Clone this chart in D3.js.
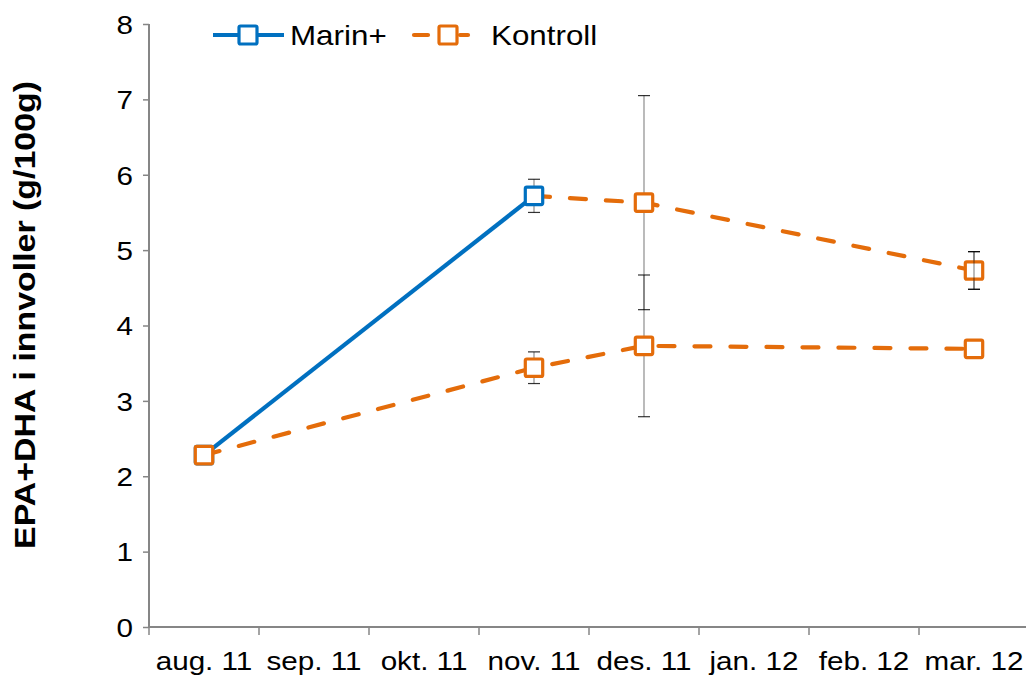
<!DOCTYPE html>
<html>
<head>
<meta charset="utf-8">
<script src="https://cdn.jsdelivr.net/npm/d3@7"></script>
<style>
  html, body { margin: 0; padding: 0; background: #fff; }
  svg { display: block; font-family: "Liberation Sans", Arial, sans-serif; }
</style>
</head>
<body>
<svg id="chart" width="1026" height="677"></svg>
<script>
// Months on the x axis
const months = ["aug. 11", "sep. 11", "okt. 11", "nov. 11", "des. 11", "jan. 12", "feb. 12", "mar. 12"];
const yTicks = [0, 1, 2, 3, 4, 5, 6, 7, 8];

// Marin+ feed group
const marinMonths = ["aug. 11", "nov. 11"];
const marinValues = [2.28, 5.72];
const marinErr = [0, 0.22];

// Marin+ group after switching to control feed
const switchMonths = ["nov. 11", "des. 11", "mar. 12"];
const switchValues = [5.72, 5.63, 4.73];
const switchErr = [0, 1.42, 0.25];

// Kontroll group
const kontrollMonths = ["aug. 11", "nov. 11", "des. 11", "mar. 12"];
const kontrollValues = [2.28, 3.44, 3.73, 3.69];
const kontrollErr = [0, 0.21, 0.94, 0];

const BLUE = "#0070C0";
const ORANGE = "#E46C0A";
const AXIS = "#868686";
const WIDE = 1.14; // horizontal stretch of the label font

const svg = d3.select("#chart");
const plotL = 149, plotR = 1029, plotT = 24, plotB = 627;

const x = d3.scaleBand().domain(months).range([plotL, plotR]);
const y = d3.scaleLinear().domain([0, 8]).range([plotB, plotT]);
const cx = m => x(m) + x.bandwidth() / 2;

// widen a text element about its anchor point
function widen(sel, k) {
  sel.each(function () {
    const t = d3.select(this);
    const tx = +t.attr("x") || 0, ty = +t.attr("y") || 0;
    t.attr("x", 0).attr("y", 0)
      .attr("transform", `translate(${tx},${ty}) scale(${k},1)`);
  });
}

// Axes
const yAxis = svg.append("g")
  .attr("transform", `translate(${plotL},0)`)
  .call(d3.axisLeft(y).tickValues(yTicks).tickSize(6).tickPadding(10).tickFormat(d3.format("d")));
const xAxis = svg.append("g")
  .attr("transform", `translate(0,${plotB})`)
  .call(d3.axisBottom(x).tickSize(0).tickPadding(25));
// band boundaries as tick marks
xAxis.selectAll(".bound").data(months).enter().append("line")
  .attr("class", "bound")
  .attr("x1", d => x(d)).attr("x2", d => x(d))
  .attr("y1", 0).attr("y2", 8);

[yAxis, xAxis].forEach(g => {
  g.select(".domain").attr("stroke", AXIS).attr("stroke-width", 2);
  g.selectAll("line").attr("stroke", AXIS).attr("stroke-width", 1.5);
  g.selectAll("text").attr("fill", "#000").attr("font-size", 26)
    .attr("font-family", "'Liberation Sans', Arial, sans-serif");
});
xAxis.select(".domain").attr("d", `M${plotL},0H1026`);
yAxis.select(".domain").attr("d", `M0,${plotT}V${plotB}`);
yAxis.selectAll("text").attr("dy", "0.36em");
widen(yAxis.selectAll(".tick text"), WIDE);
widen(xAxis.selectAll(".tick text"), WIDE);

// Y axis title
svg.append("text")
  .attr("transform", `translate(35,315) rotate(-90) scale(1.13,1)`)
  .attr("text-anchor", "middle")
  .attr("font-size", 30)
  .attr("font-weight", "bold")
  .text("EPA+DHA i innvoller (g/100g)");

function series(ms, vs) { return ms.map((m, i) => ({ m, v: vs[i] })); }

const line = d3.line().x(d => cx(d.m)).y(d => y(d.v));

function errorBars(ms, vs, es) {
  const data = ms.map((m, i) => ({ m, v: vs[i], e: es[i] })).filter(d => d.e > 0);
  const g = svg.append("g");
  g.selectAll(".stem").data(data).enter().append("line")
    .attr("x1", d => cx(d.m)).attr("x2", d => cx(d.m))
    .attr("y1", d => y(d.v + d.e)).attr("y2", d => y(d.v - d.e))
    .attr("stroke", "#000").attr("stroke-opacity", 0.45).attr("stroke-width", 1.2);
  ["up", "down"].forEach(side => {
    g.selectAll(".cap-" + side).data(data).enter().append("line")
      .attr("x1", d => cx(d.m) - 6).attr("x2", d => cx(d.m) + 6)
      .attr("y1", d => y(side === "up" ? d.v + d.e : d.v - d.e))
      .attr("y2", d => y(side === "up" ? d.v + d.e : d.v - d.e))
      .attr("stroke", "#000").attr("stroke-opacity", 0.8).attr("stroke-width", 1.2);
  });
}

function drawLine(data, color, dashed) {
  svg.append("path").datum(data)
    .attr("d", line)
    .attr("fill", "none")
    .attr("stroke", color)
    .attr("stroke-width", 4.2)
    .attr("stroke-linecap", dashed ? "round" : "butt")
    .attr("stroke-dasharray", dashed ? "16,20" : null);
}

function drawMarkers(data, color) {
  svg.append("g").selectAll("rect").data(data).enter().append("rect")
    .attr("x", d => cx(d.m) - 8.7).attr("y", d => y(d.v) - 8.7)
    .attr("width", 17.4).attr("height", 17.4)
    .attr("rx", 1.5)
    .attr("fill", "#fff").attr("stroke", color).attr("stroke-width", 3.2);
}

const marin = series(marinMonths, marinValues);
const switched = series(switchMonths, switchValues);
const kontroll = series(kontrollMonths, kontrollValues);

// error bars sit behind the lines
errorBars(switchMonths, switchValues, switchErr);
errorBars(kontrollMonths, kontrollValues, kontrollErr);
errorBars(marinMonths, marinValues, marinErr);

drawLine(switched, ORANGE, true);
drawLine(marin, BLUE, false);
drawMarkers(switched.slice(1), ORANGE);
drawMarkers(marin, BLUE);
drawLine(kontroll, ORANGE, true);
drawMarkers(kontroll, ORANGE);

// mar. 12 upper error bar drawn over its marker
errorBars(["mar. 12"], [switchValues[2]], [switchErr[2]]);

// Legend
const leg = svg.append("g");
const legY = 35;
leg.append("line").attr("x1", 213).attr("x2", 284).attr("y1", legY).attr("y2", legY)
  .attr("stroke", BLUE).attr("stroke-width", 4.2);
leg.append("rect").attr("x", 248 - 9).attr("y", legY - 9).attr("width", 18).attr("height", 18).attr("rx", 1.5)
  .attr("fill", "#fff").attr("stroke", BLUE).attr("stroke-width", 3.2);
leg.append("text").attr("x", 290).attr("y", legY + 10).attr("font-size", 28).text("Marin+");

leg.append("line").attr("x1", 414).attr("x2", 428).attr("y1", legY).attr("y2", legY)
  .attr("stroke", ORANGE).attr("stroke-width", 4.2).attr("stroke-linecap", "round");
leg.append("line").attr("x1", 460).attr("x2", 468).attr("y1", legY).attr("y2", legY)
  .attr("stroke", ORANGE).attr("stroke-width", 4.2).attr("stroke-linecap", "round");
leg.append("rect").attr("x", 448 - 9).attr("y", legY - 9).attr("width", 18).attr("height", 18).attr("rx", 1.5)
  .attr("fill", "#fff").attr("stroke", ORANGE).attr("stroke-width", 3.2);
leg.append("text").attr("x", 491).attr("y", legY + 10).attr("font-size", 28).text("Kontroll");
widen(leg.selectAll("text"), 1.12);
</script>
</body>
</html>
